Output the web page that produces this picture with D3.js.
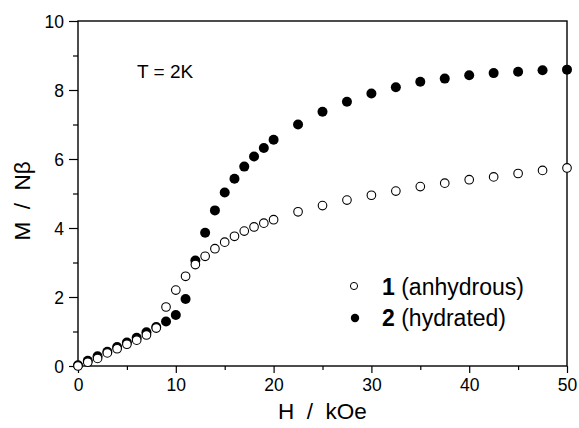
<!DOCTYPE html>
<html>
<head>
<meta charset="utf-8">
<script src="https://cdn.jsdelivr.net/npm/d3@7"></script>
<style>
  body { margin: 0; background: #fff; }
  svg { font-family: "Liberation Sans", Arial, sans-serif; }
  text { white-space: pre; }
</style>
</head>
<body>
<svg width="579" height="428"></svg>
<script>
// field H (kOe)
var fieldH = [0, 1, 2, 3, 4, 5, 6, 7, 8, 9, 10, 11, 12, 13, 14, 15, 16, 17, 18, 19, 20,
              22.5, 25, 27.5, 30, 32.5, 35, 37.5, 40, 42.5, 45, 47.5, 50];
// compound 1 (anhydrous), open circles
var anhydrous = [0.0, 0.11, 0.22, 0.38, 0.5, 0.63, 0.75, 0.9, 1.1, 1.71, 2.2, 2.6, 2.94, 3.18, 3.4, 3.59, 3.76, 3.91, 4.03, 4.14, 4.24,
                 4.47, 4.65, 4.81, 4.95, 5.07, 5.2, 5.3, 5.4, 5.48, 5.58, 5.67, 5.74];
// compound 2 (hydrated), filled circles
var hydrated = [0.02, 0.15, 0.28, 0.41, 0.55, 0.68, 0.82, 0.98, 1.13, 1.29, 1.48, 1.94, 3.06, 3.86, 4.51, 5.03, 5.43, 5.78, 6.07, 6.32, 6.56,
                7.0, 7.37, 7.66, 7.9, 8.08, 8.24, 8.33, 8.43, 8.49, 8.53, 8.57, 8.59];

var xMajor = [0, 10, 20, 30, 40, 50];
var xMinor = [5, 15, 25, 35, 45];
var yMajor = [0, 2, 4, 6, 8, 10];
var yMinor = [1, 3, 5, 7, 9];

var svg = d3.select("svg"),
    margin = {top: 21, right: 12, bottom: 62, left: 78},
    width = +svg.attr("width") - margin.left - margin.right,
    height = +svg.attr("height") - margin.top - margin.bottom;

var x = d3.scaleLinear().domain([0, 50]).range([0, width]);
var y = d3.scaleLinear().domain([0, 10]).range([height, 0]);

var g = svg.append("g").attr("transform", "translate(" + margin.left + "," + margin.top + ")");

// frame
g.append("rect")
    .attr("width", width).attr("height", height)
    .attr("fill", "none").attr("stroke", "#000").attr("stroke-width", 1.4);

// x axis
g.append("g").attr("transform", "translate(0," + height + ")")
    .call(d3.axisBottom(x).tickValues(xMajor).tickSize(7).tickPadding(6).tickFormat(d3.format("d")));
g.append("g").attr("transform", "translate(0," + height + ")")
    .call(d3.axisBottom(x).tickValues(xMinor).tickSize(4).tickFormat(""));

// y axis
var yAx = g.append("g")
    .call(d3.axisLeft(y).tickValues(yMajor).tickSize(9).tickPadding(5).tickFormat(d3.format("d")));
g.append("g")
    .call(d3.axisLeft(y).tickValues(yMinor).tickSize(5).tickFormat(""));

g.selectAll(".domain").remove();
g.selectAll(".tick line").attr("stroke", "#000").attr("stroke-width", 1.2);
g.selectAll(".tick text")
    .attr("fill", "#000")
    .style("font-family", "'Liberation Sans', Arial, sans-serif")
    .style("font-size", "17.5px");
yAx.selectAll(".tick text").attr("dy", "0.36em");

// axis titles
svg.append("text")
    .attr("x", margin.left + width / 2)
    .attr("y", 419)
    .attr("text-anchor", "middle")
    .style("font-size", "22.5px")
    .text("H  /  kOe");

svg.append("text")
    .attr("transform", "translate(30,201) rotate(-90)")
    .attr("text-anchor", "middle")
    .style("font-size", "22.5px")
    .text("M  /  Nβ");

svg.append("text")
    .attr("x", 137).attr("y", 78)
    .style("font-size", "19px")
    .text("T = 2K");

// data points
var pts1 = fieldH.map(function (h, i) { return {h: h, m: anhydrous[i]}; });
var pts2 = fieldH.map(function (h, i) { return {h: h, m: hydrated[i]}; });

g.selectAll(".p2").data(pts2).enter().append("circle")
    .attr("class", "p2")
    .attr("cx", function (d) { return x(d.h); })
    .attr("cy", function (d) { return y(d.m); })
    .attr("r", 5)
    .attr("fill", "#000");

g.selectAll(".p1").data(pts1).enter().append("circle")
    .attr("class", "p1")
    .attr("cx", function (d) { return x(d.h); })
    .attr("cy", function (d) { return y(d.m); })
    .attr("r", 4.3)
    .attr("fill", "#fff")
    .attr("stroke", "#000")
    .attr("stroke-width", 1.1);

// legend
var legend = svg.append("g");
legend.append("circle").attr("cx", 354).attr("cy", 286).attr("r", 3.6)
    .attr("fill", "#fff").attr("stroke", "#000").attr("stroke-width", 1);
legend.append("circle").attr("cx", 355).attr("cy", 318).attr("r", 4.2).attr("fill", "#000");

var t1 = legend.append("text").attr("x", 382).attr("y", 295).style("font-size", "23px");
t1.append("tspan").style("font-weight", "bold").text("1");
t1.append("tspan").text(" (anhydrous)");
var t2 = legend.append("text").attr("x", 382).attr("y", 326).style("font-size", "23px");
t2.append("tspan").style("font-weight", "bold").text("2");
t2.append("tspan").text(" (hydrated)");
</script>
</body>
</html>
